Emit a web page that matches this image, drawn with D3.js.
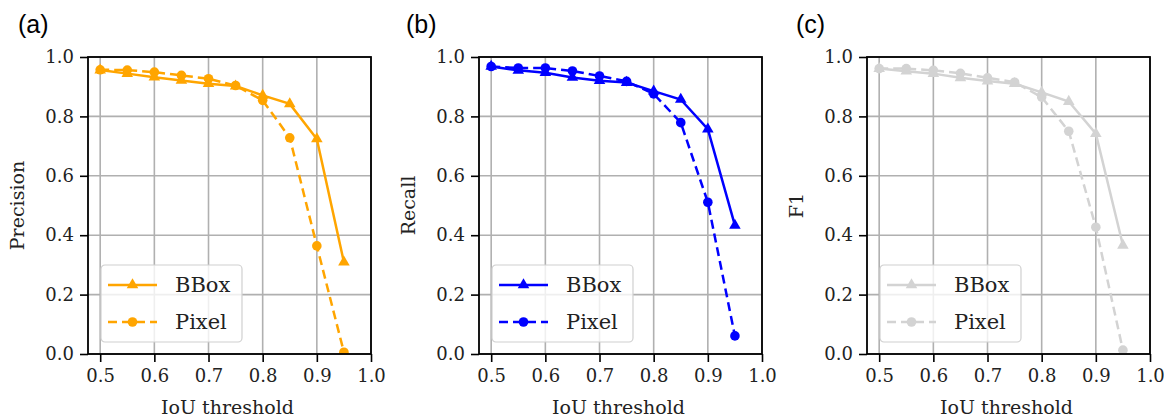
<!DOCTYPE html>
<html>
<head>
<meta charset="utf-8">
<script src="https://cdn.jsdelivr.net/npm/d3@7"></script>
<style>
  body { margin: 0; background: #fff; }
  svg { display: block; }
</style>
</head>
<body>
<svg width="1164" height="420"></svg>
<script>
const WIDTH = 1164
const HEIGHT = 420
const PLOT_W = 283
const PLOT_H = 297
const TOP = 57
const SERIF = "DejaVu Serif, serif"

const thresholds = [0.5, 0.55, 0.6, 0.65, 0.7, 0.75, 0.8, 0.85, 0.9, 0.95]
const xTicks = [0.5, 0.6, 0.7, 0.8, 0.9, 1.0]
const yTicks = [0.0, 0.2, 0.4, 0.6, 0.8, 1.0]
const seriesNames = ["BBox", "Pixel"]

const precisionBBox = [0.956, 0.944, 0.932, 0.921, 0.910, 0.902, 0.871, 0.842, 0.724, 0.309]
const precisionPixel = [0.957, 0.956, 0.949, 0.938, 0.927, 0.904, 0.854, 0.728, 0.364, 0.006]
const recallBBox = [0.968, 0.955, 0.947, 0.931, 0.920, 0.914, 0.885, 0.857, 0.757, 0.433]
const recallPixel = [0.968, 0.963, 0.963, 0.953, 0.936, 0.918, 0.876, 0.779, 0.511, 0.061]
const f1BBox = [0.961, 0.952, 0.944, 0.930, 0.919, 0.910, 0.881, 0.850, 0.742, 0.366]
const f1Pixel = [0.961, 0.961, 0.955, 0.945, 0.930, 0.915, 0.865, 0.750, 0.427, 0.013]

// panel layout
const panels = [
    { tag: "(a)", label: "Precision", color: "#ffa500", left: 88, tagX: 18, bbox: precisionBBox, pixel: precisionPixel },
    { tag: "(b)", label: "Recall", color: "#0000ff", left: 479, tagX: 406, bbox: recallBBox, pixel: recallPixel },
    { tag: "(c)", label: "F1", color: "#d3d3d3", left: 867, tagX: 796, bbox: f1BBox, pixel: f1Pixel }
]

const svg = d3.select("svg")

const x = d3.scaleLinear().domain([0.4775, 1.0]).range([0, PLOT_W])
const y = d3.scaleLinear().domain([0, 1]).range([PLOT_H, 0])

const triangle = d3.symbol().type(d3.symbolTriangle).size(58)
const DOT_R = 4.8
const LW = 2.5

function drawPanel(p) {
    svg.append("text")
        .attr("x", p.tagX)
        .attr("y", 33)
        .attr("font-family", "Liberation Sans, Arial, sans-serif")
        .attr("font-size", 25)
        .text(p.tag)

    let g = svg.append("g").attr("transform", "translate(" + p.left + "," + TOP + ")")

    // grid
    g.append("g").selectAll("line")
        .data(xTicks)
        .join("line")
        .attr("x1", d => x(d)).attr("x2", d => x(d))
        .attr("y1", 0).attr("y2", PLOT_H)
        .attr("stroke", "#b0b0b0").attr("stroke-width", 1.6)
    g.append("g").selectAll("line")
        .data(yTicks)
        .join("line")
        .attr("y1", d => y(d)).attr("y2", d => y(d))
        .attr("x1", 0).attr("x2", PLOT_W)
        .attr("stroke", "#b0b0b0").attr("stroke-width", 1.6)

    let xAxis = g.append("g")
        .attr("transform", "translate(0," + PLOT_H + ")")
        .call(d3.axisBottom(x).tickValues(xTicks).tickFormat(d3.format(".1f")).tickSizeOuter(0).tickSize(8).tickPadding(7))
    let yAxis = g.append("g")
        .call(d3.axisLeft(y).tickValues(yTicks).tickFormat(d3.format(".1f")).tickSizeOuter(0).tickSize(8).tickPadding(6))
    for (let ax of [xAxis, yAxis]) {
        ax.attr("font-family", SERIF).attr("font-size", 18)
        ax.select(".domain").remove()
        ax.selectAll(".tick line").attr("stroke", "#000").attr("stroke-width", 1.6)
        ax.selectAll(".tick text").attr("fill", "#222")
    }

    let clip = "clip" + p.tag.replace(/\W/g, "")
    g.append("clipPath").attr("id", clip)
        .append("rect").attr("width", PLOT_W).attr("height", PLOT_H)

    let line = d3.line()
        .x((d, i) => x(thresholds[i]))
        .y(d => y(d))

    let plot = g.append("g").attr("clip-path", "url(#" + clip + ")")

    plot.append("path")
        .datum(p.bbox)
        .attr("d", line)
        .attr("fill", "none")
        .attr("stroke", p.color)
        .attr("stroke-width", LW)
    plot.selectAll("path.tri")
        .data(p.bbox)
        .join("path")
        .attr("class", "tri")
        .attr("d", triangle)
        .attr("transform", (d, i) => "translate(" + x(thresholds[i]) + "," + y(d) + ")")
        .attr("fill", p.color)

    plot.append("path")
        .datum(p.pixel)
        .attr("d", line)
        .attr("fill", "none")
        .attr("stroke", p.color)
        .attr("stroke-width", LW)
        .attr("stroke-dasharray", "9,5")
    plot.selectAll("circle.pt")
        .data(p.pixel)
        .join("circle")
        .attr("class", "pt")
        .attr("cx", (d, i) => x(thresholds[i]))
        .attr("cy", d => y(d))
        .attr("r", DOT_R)
        .attr("fill", p.color)

    // frame
    g.append("rect")
        .attr("width", PLOT_W).attr("height", PLOT_H)
        .attr("fill", "none").attr("stroke", "#000").attr("stroke-width", 1.8)

    // legend
    let leg = g.append("g").attr("transform", "translate(13,208)")
    leg.append("rect")
        .attr("width", 141).attr("height", 77)
        .attr("rx", 4)
        .attr("fill", "#fff").attr("fill-opacity", 0.8)
        .attr("stroke", "#d0d0d0").attr("stroke-width", 1.2)
    seriesNames.forEach((name, i) => {
        let ly = 20 + i * 37
        leg.append("line")
            .attr("x1", 7).attr("x2", 56)
            .attr("y1", ly).attr("y2", ly)
            .attr("stroke", p.color).attr("stroke-width", LW)
            .attr("stroke-dasharray", i === 1 ? "9,5" : null)
        if (i === 0) {
            leg.append("path").attr("d", triangle)
                .attr("transform", "translate(31.5," + ly + ")")
                .attr("fill", p.color)
        } else {
            leg.append("circle").attr("cx", 31.5).attr("cy", ly).attr("r", DOT_R).attr("fill", p.color)
        }
        leg.append("text")
            .attr("x", 74).attr("y", ly + 7)
            .attr("font-family", SERIF)
            .attr("font-size", 21)
            .attr("fill", "#222")
            .text(name)
    })

    // axis labels
    g.append("text")
        .attr("x", PLOT_W / 2 - 2).attr("y", PLOT_H + 60)
        .attr("text-anchor", "middle")
        .attr("font-family", SERIF)
        .attr("font-size", 19)
        .attr("fill", "#222")
        .text("IoU threshold")
    g.append("text")
        .attr("transform", "translate(" + (-64) + "," + (PLOT_H / 2) + ") rotate(-90)")
        .attr("text-anchor", "middle")
        .attr("font-family", SERIF)
        .attr("font-size", 19)
        .attr("fill", "#222")
        .text(p.label)
}

panels.forEach(drawPanel)
</script>
</body>
</html>
